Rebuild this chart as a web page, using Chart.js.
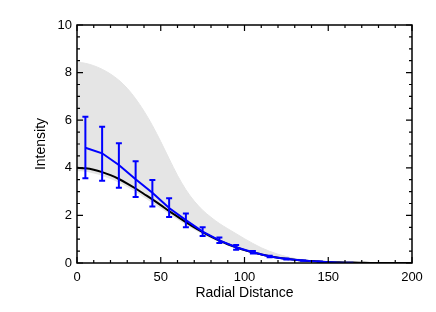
<!DOCTYPE html>
<html>
<head>
<meta charset="utf-8">
<script src="https://cdn.jsdelivr.net/npm/chart.js@4.4.1/dist/chart.umd.min.js"></script>
<style>
html,body{margin:0;padding:0;background:#fff;}
canvas{display:block;}
</style>
</head>
<body>
<canvas id="c" width="436" height="312"></canvas>
<script>
// ---- data ----
const curveX = [0,5,10,15,20,25,30,35,40,45,50,55,60,65,70,75,80,85,90,95,100,105,110,115,120,125,130,135,140,145,150,155,160,165,170,175,180,185,190,195,200];
const modelY = [4.00,3.98,3.92,3.82,3.69,3.53,3.34,3.13,2.90,2.67,2.43,2.18,1.95,1.72,1.50,1.30,1.11,0.94,0.79,0.66,0.54,0.44,0.36,0.28,0.22,0.18,0.14,0.10,0.08,0.06,0.04,0.03,0.02,0.02,0.01,0,0,0,0,0,0];
const bandUpper = [8.45,8.39,8.29,8.14,7.94,7.68,7.34,6.90,6.38,5.78,5.10,4.38,3.68,3.08,2.60,2.22,1.92,1.66,1.44,1.23,1.02,0.82,0.64,0.49,0.37,0.27,0.19,0.13,0.08,0.05,0.03,0.02,0.01,0,0,0,0,0,0,0,0];
const bandLower = [3.85,3.83,3.76,3.66,3.53,3.37,3.19,2.98,2.75,2.52,2.29,2.05,1.83,1.61,1.40,1.21,1.03,0.87,0.73,0.60,0.49,0.40,0.32,0.25,0.19,0.15,0.12,0.08,0.06,0.04,0.03,0.02,0.01,0.01,0,0,0,0,0,0,0];
const obsX  = [5,15,25,35,45,55,65,75,85,95,105,115,125,135,145,155,165];
const obsY  = [4.84,4.61,4.12,3.52,2.95,2.31,1.80,1.32,0.95,0.66,0.45,0.27,0.17,0.10,0.05,0.02,0.01];
const obsLo = [3.56,3.46,3.16,2.77,2.37,1.93,1.50,1.13,0.84,0.56,0.40,0.24,0.15,0.09,0.04,0.02,0.01];
const obsHi = [6.15,5.73,5.03,4.27,3.49,2.72,2.08,1.50,1.07,0.76,0.50,0.30,0.19,0.11,0.06,0.02,0.01];
const xTicks = [0,50,100,150,200];
const yTicks = [0,2,4,6,8,10];
const xTitle = 'Radial Distance';
const yTitle = 'Intensity';

const pts = (xs, ys) => xs.map((x, i) => ({x: x, y: ys[i]}));

const errorBars = {
  id: 'errorBars',
  afterDatasetsDraw(chart) {
    const {ctx, scales: {x, y}} = chart;
    ctx.save();
    ctx.strokeStyle = '#0000ff';
    ctx.lineWidth = 2;
    obsX.forEach((v, i) => {
      if (obsHi[i] - obsLo[i] < 0.015) return;
      const px = x.getPixelForValue(v);
      const yl = y.getPixelForValue(obsLo[i]);
      const yh = y.getPixelForValue(obsHi[i]);
      ctx.beginPath();
      ctx.moveTo(px, yl); ctx.lineTo(px, yh);
      ctx.moveTo(px - 3, yl); ctx.lineTo(px + 3, yl);
      ctx.moveTo(px - 3, yh); ctx.lineTo(px + 3, yh);
      ctx.stroke();
    });
    ctx.restore();
  }
};

const frame = {
  id: 'frame',
  afterDraw(chart) {
    const {ctx, chartArea: a, scales: {x, y}} = chart;
    ctx.save();
    ctx.strokeStyle = '#000';
    ctx.lineWidth = 1.5;
    ctx.strokeRect(a.left, a.top, a.right - a.left, a.bottom - a.top);
    ctx.lineWidth = 1.2;
    ctx.beginPath();
    for (let v = 0; v <= 200; v += 10) {
      const px = x.getPixelForValue(v);
      const len = v % 50 === 0 ? 6 : 3;
      ctx.moveTo(px, a.bottom); ctx.lineTo(px, a.bottom - len);
      ctx.moveTo(px, a.top); ctx.lineTo(px, a.top + len);
    }
    for (let k = 0; k <= 20; k++) {
      const v = k * 0.5;
      const py = y.getPixelForValue(v);
      const len = k % 4 === 0 ? 6 : 3;
      ctx.moveTo(a.left, py); ctx.lineTo(a.left + len, py);
      ctx.moveTo(a.right, py); ctx.lineTo(a.right - len, py);
    }
    ctx.stroke();
    ctx.restore();
  }
};

new Chart(document.getElementById('c'), {
  type: 'line',
  data: {
    datasets: [
      {data: pts(obsX, obsY), borderColor: '#0000ff', borderWidth: 2, pointRadius: 0, fill: false, tension: 0},
      {data: pts(curveX, modelY), borderColor: '#000000', borderWidth: 2, pointRadius: 0, fill: false, tension: 0.3},
      {data: pts(curveX, bandLower), borderColor: 'rgba(0,0,0,0)', borderWidth: 0, pointRadius: 0, fill: false, tension: 0.3},
      {data: pts(curveX, bandUpper), borderColor: 'rgb(228,228,228)', borderWidth: 1, pointRadius: 0, backgroundColor: 'rgb(229,229,229)', fill: 2, cubicInterpolationMode: 'monotone'}
    ]
  },
  options: {
    responsive: false,
    animation: false,
    devicePixelRatio: 1,
    layout: {padding: {left: 0, top: 25, right: 24, bottom: 0}},
    plugins: {legend: {display: false}, tooltip: {enabled: false}},
    scales: {
      x: {
        type: 'linear', min: 0, max: 200,
        afterBuildTicks: s => { s.ticks = xTicks.map(v => ({value: v})); },
        afterFit: s => { s.height = 49; },
        grid: {display: false, drawTicks: false},
        border: {display: false},
        ticks: {color: '#000', padding: 7, maxRotation: 0, font: {family: 'Liberation Sans, Arial, sans-serif', size: 13}},
        title: {display: true, text: xTitle, color: '#000', padding: {top: 0, bottom: 10}, font: {family: 'Liberation Sans, Arial, sans-serif', size: 14}}
      },
      y: {
        type: 'linear', min: 0, max: 10,
        afterBuildTicks: s => { s.ticks = yTicks.map(v => ({value: v})); },
        afterFit: s => { s.width = 77; },
        grid: {display: false, drawTicks: false},
        border: {display: false},
        ticks: {color: '#000', padding: 5, font: {family: 'Liberation Sans, Arial, sans-serif', size: 13}},
        title: {display: true, text: yTitle, color: '#000', padding: {top: 33, bottom: 0}, font: {family: 'Liberation Sans, Arial, sans-serif', size: 14}}
      }
    }
  },
  plugins: [errorBars, frame]
});
</script>
</body>
</html>
